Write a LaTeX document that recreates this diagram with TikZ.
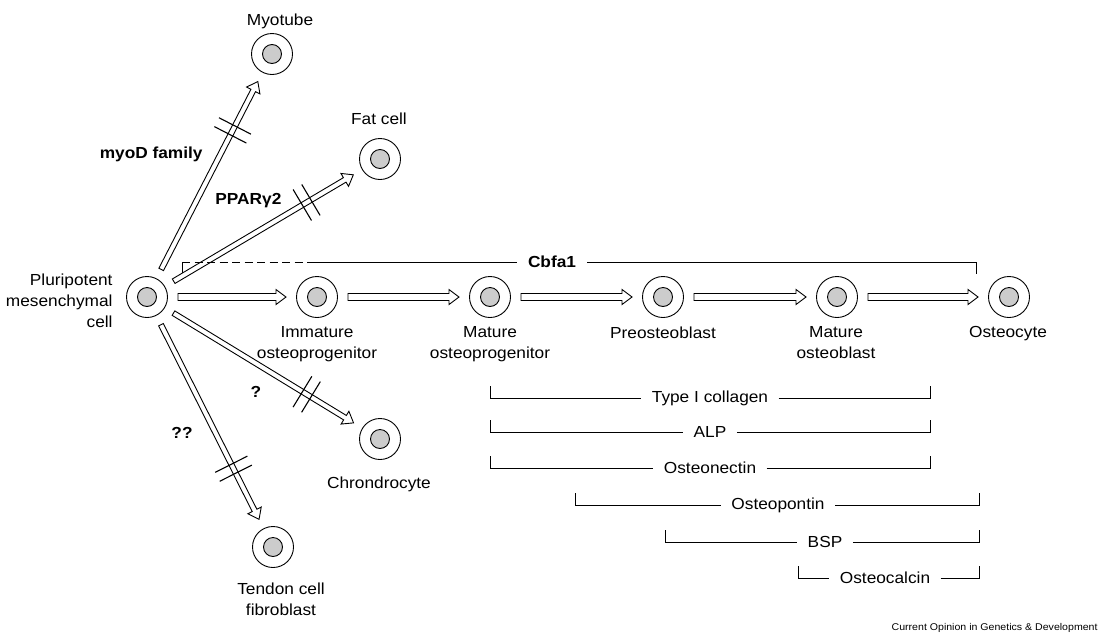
\documentclass[tikz,border=0pt]{standalone}
\usepackage{fontspec}
\setmainfont{Liberation Sans}[FakeStretch=1.08]
\usetikzlibrary{calc}
\tikzset{
  cell/.style={circle,draw,minimum size=41pt,inner sep=0pt,
    path picture={\draw[fill=black!20] (path picture bounding box.center) circle (9.5pt);}},
  celltext/.style={anchor=north,inner sep=0pt,align=center,font=\fontsize{16}{21}\selectfont},
  qlabel/.style={anchor=base,inner sep=0pt,font=\fontsize{16}{21}\selectfont\bfseries},
  marker/.style={inner xsep=10pt,inner ysep=0pt,font=\fontsize{16}{21}\selectfont},
  hollow/.style={to path={
    ($(\tikztostart)!31pt!(\tikztotarget)$) coordinate (hs)
    ($(\tikztotarget)!31pt!(\tikztostart)$) coordinate (ht)
    ($(ht)!10pt!(hs)$) coordinate (hh)
    ($(hs)!#1!90:(ht)$) -- ($(hh)!#1!90:(ht)$) -- ($(hh)!7.5pt!90:(ht)$) -- (ht)
    -- ($(hh)!7.5pt!-90:(ht)$) -- ($(hh)!#1!-90:(ht)$) -- ($(hs)!#1!-90:(ht)$) -- cycle}},
  hollow/.default=3.5pt,
  cutmark/.style={line width=1.1pt,to path={
    ($(\tikztostart)!0.74!(\tikztotarget)$) coordinate (hm)
    ($(hm)!5pt!(\tikztotarget)$) coordinate (hm1)
    ($(hm)!5pt!(\tikztostart)$) coordinate (hm2)
    ($(hm1)!18pt!90:(\tikztotarget)$) -- ($(hm1)!18pt!-90:(\tikztotarget)$)
    ($(hm2)!18pt!90:(\tikztotarget)$) -- ($(hm2)!18pt!-90:(\tikztotarget)$)}}
}
\begin{document}
\begin{tikzpicture}[x=1pt,y=-1pt,line width=0.9pt]
\useasboundingbox (0,0) rectangle (1107,643);
\node[cell] (pluri) at (147,297) {};
\node[cell] (myo) at (272,54) {};
\node[cell] (fat) at (380,159) {};
\node[cell] (imm) at (317,297) {};
\node[cell] (mop) at (490,297) {};
\node[cell] (pre) at (663,297) {};
\node[cell] (mob) at (837,297) {};
\node[cell] (ocy) at (1009,297) {};
\node[cell] (chon) at (380,439) {};
\node[cell] (ten) at (273,547) {};

\node[celltext,anchor=north east,align=right] (tpluri) at (113,273) {Pluripotent\\mesenchymal\\cell};
\node[celltext] (tmyo) at (280,13) {Myotube};
\node[celltext] (tfat) at (379,112) {Fat cell};
\node[celltext] (timm) at (317,326) {Immature\\osteoprogenitor};
\node[celltext] (tmop) at (490,326) {Mature\\osteoprogenitor};
\node[celltext] (tpre) at (663,326) {Preosteoblast};
\node[celltext] (tmob) at (836,326) {Mature\\osteoblast};
\node[celltext] (tocy) at (1008,326) {Osteocyte};
\node[celltext] (tchon) at (379,476) {Chrondrocyte};
\node[celltext] (tten) at (281,582) {Tendon cell\\fibroblast};

\node[qlabel,anchor=base east] (lmyod) at (203,158) {myoD family};
\node[qlabel,anchor=base west] (lppar) at (215,204) {PPARγ2};
\node[qlabel] (lq) at (256,397) {?};
\node[qlabel] (lqq) at (182,438) {??};

\node[qlabel,anchor=center,inner xsep=11pt] (cbfa) at (552,262) {Cbfa1};
\coordinate (cl) at (182,273);
\coordinate (cd) at (308,262);
\coordinate (cr) at (976,274);
\draw (cl) -- (cl|-cd);
\draw[dash pattern=on 8pt off 4.5pt] (cl|-cd) -- (cd);
\draw (cd) -- (cbfa.west) (cbfa.east) -- (cr|-cd) -- (cr);

\foreach \a/\b in {pluri/imm,imm/mop,mop/pre,pre/mob,mob/ocy}
  \draw[hollow] (\a) to (\b);
\foreach \b in {myo,fat,chon,ten}{
  \draw[hollow=2.6pt] (pluri) to (\b);
  \draw[cutmark] (hs) to (ht);
}

\foreach \yy/\xa/\xb/\xm/\txt [count=\i] in {398/490/930/710/Type I collagen,
    432/490/930/710/ALP, 468/490/930/710/Osteonectin, 505/575/979/778/Osteopontin,
    542/665/979/825/BSP, 578/798/979/885/Osteocalcin}{
  \node[marker] (mk\i) at (\xm,\yy) {\txt};
  \draw (\xa,\yy-12) -- (\xa,\yy) -- (mk\i.west) (mk\i.east) -- (\xb,\yy) -- (\xb,\yy-12);
}

\node[anchor=base east,inner sep=0pt,font=\fontsize{9.8}{12}\selectfont] (src) at (1098,630) {Current Opinion in Genetics \& Development};
\end{tikzpicture}
\end{document}
